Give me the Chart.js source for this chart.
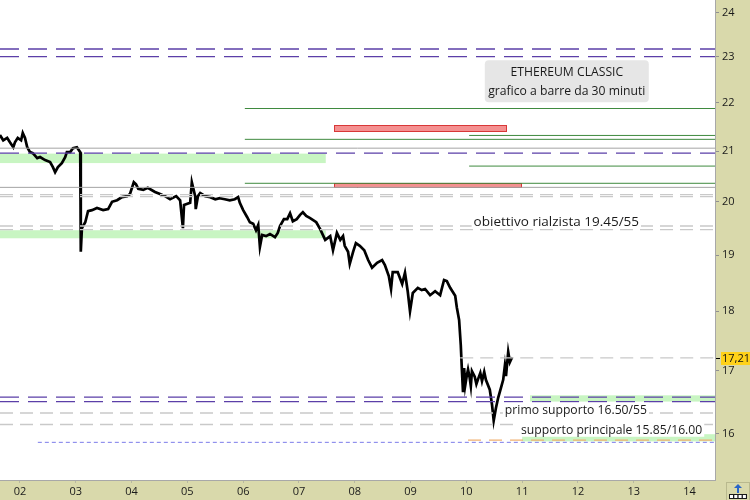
<!DOCTYPE html>
<html>
<head>
<meta charset="utf-8">
<script src="https://cdn.jsdelivr.net/npm/chart.js@4.4.1/dist/chart.umd.min.js"></script>
<style>
  html, body { margin: 0; padding: 0; background: #d9d9ab; }
  #wrap { width: 750px; height: 500px; }
</style>
</head>
<body>
<div id="wrap"><canvas id="chart" width="750" height="500"></canvas></div>
<script>
// ETC, barre da 30 minuti: tempo in giorni del mese, prezzo in USD
const times = [
  1.64, 1.70, 1.77, 1.82, 1.88, 1.91, 1.96, 2.02, 2.05, 2.09, 2.13, 2.18, 2.23, 2.31, 2.36, 2.45,
  2.54, 2.59, 2.63, 2.68, 2.75, 2.81, 2.84, 2.90, 2.95, 3.02, 3.08, 3.09, 3.11, 3.17, 3.22, 3.29,
  3.38, 3.49, 3.58, 3.65, 3.74, 3.83, 3.92, 3.97, 4.04, 4.08, 4.12, 4.21, 4.29, 4.42, 4.51, 4.60,
  4.69, 4.80, 4.87, 4.92, 4.94, 5.05, 5.08, 5.14, 5.15, 5.19, 5.23, 5.32, 5.41, 5.50, 5.58, 5.67,
  5.76, 5.85, 5.91, 5.94, 6.00, 6.07, 6.12, 6.18, 6.23, 6.27, 6.30, 6.34, 6.41, 6.48, 6.57, 6.62,
  6.66, 6.73, 6.79, 6.84, 6.89, 6.96, 7.02, 7.07, 7.13, 7.20, 7.31, 7.38, 7.47, 7.56, 7.61, 7.68,
  7.74, 7.79, 7.82, 7.88, 7.91, 7.97, 8.02, 8.09, 8.17, 8.24, 8.31, 8.40, 8.49, 8.54, 8.61, 8.65,
  8.68, 8.77, 8.85, 8.90, 8.95, 8.99, 9.04, 9.13, 9.20, 9.26, 9.35, 9.44, 9.53, 9.60, 9.65, 9.71,
  9.80, 9.83, 9.87, 9.90, 9.92, 9.94, 9.96, 9.98, 10.01, 10.03, 10.06, 10.08, 10.10, 10.15, 10.18,
  10.21, 10.25, 10.28, 10.32, 10.35, 10.42, 10.46, 10.49, 10.53, 10.57, 10.62, 10.66, 10.69, 10.71,
  10.75, 10.78, 10.82
];
const prices = [
  21.33, 21.22, 21.27, 21.18, 21.08, 21.18, 21.27, 21.22, 21.37, 21.27, 21.08, 20.98, 20.96, 20.86, 20.88, 20.82,
  20.78, 20.68, 20.58, 20.68, 20.76, 20.88, 20.98, 20.98, 21.06, 21.08, 20.98, 19.06, 19.50, 19.61, 19.82, 19.84,
  19.88, 19.84, 19.86, 20.00, 20.03, 20.09, 20.11, 20.15, 20.38, 20.34, 20.25, 20.23, 20.27, 20.19, 20.15, 20.11,
  20.05, 20.11, 20.03, 19.50, 19.94, 19.98, 20.38, 20.11, 19.86, 20.11, 20.17, 20.11, 20.09, 20.05, 20.07, 20.05,
  20.03, 20.05, 20.09, 19.98, 19.84, 19.71, 19.61, 19.58, 19.46, 19.56, 19.15, 19.37, 19.35, 19.39, 19.33, 19.41,
  19.54, 19.67, 19.67, 19.78, 19.63, 19.67, 19.75, 19.80, 19.73, 19.69, 19.61, 19.48, 19.28, 19.35, 19.09, 19.41,
  19.28, 19.35, 19.17, 19.06, 18.84, 19.06, 19.22, 19.17, 19.09, 18.91, 18.77, 18.86, 18.91, 18.82, 18.62, 18.39,
  18.69, 18.69, 18.48, 18.68, 18.34, 18.00, 18.32, 18.41, 18.37, 18.39, 18.28, 18.35, 18.28, 18.55, 18.53, 18.41,
  18.27, 18.06, 17.85, 17.42, 17.01, 16.65, 17.04, 16.76, 16.93, 17.02, 16.88, 16.75, 16.99, 16.90, 16.78,
  16.86, 16.96, 16.83, 16.98, 16.85, 16.69, 16.45, 16.20, 16.40, 16.56, 16.72, 16.85, 17.08, 16.91,
  17.31, 17.14, 17.22
];
const lastPrice = 17.21;

const dayTicks = [2, 3, 4, 5, 6, 7, 8, 9, 10, 11, 12, 13, 14];
const priceTicks = [16, 17, 18, 19, 20, 21, 22, 23, 24];
const dayMin = 1.642, dayMax = 14.456;
const priceMin = 15.30, priceMax = 24.29;

// livelli orizzontali: prezzo, giorno di inizio (finiscono al bordo destro)
const purpleLevels = [[23.17, dayMin], [23.00, dayMin], [20.96, dayMin], [16.57, dayMin], [16.50, dayMin]];
const greenLevels = [[21.88, 6.03], [21.32, 10.05], [21.24, 6.03], [20.70, 10.05], [20.36, 6.03]];
const grayLevels = [[21.06, dayMin], [20.28, dayMin]];
const lightLevels = [[20.14, dayMin], [20.10, dayMin], [19.54, dayMin], [19.47, dayMin], [17.21, 9.89], [16.32, dayMin], [16.14, dayMin]];
const orangeLevels = [[15.90, 10.03]];
const blueLevels = [[15.865, 2.32]];

// zone: giorno da, giorno a, prezzo basso, prezzo alto
const greenZones = [[dayMin, 7.48, 20.76, 20.95], [dayMin, 7.48, 19.31, 19.46], [11.14, dayMax, 16.50, 16.60], [11.00, dayMax, 15.88, 15.99]];
const redZones = [[7.63, 10.71, 21.42, 21.53], [7.63, 10.98, 20.28, 20.36]];

// note: testo, giorno (bordo sinistro), prezzo (centro), corpo
const notes = [
  ['obiettivo rialzista 19.45/55', 10.13, 19.63, 13.5],
  ['primo supporto 16.50/55', 10.69, 16.37, 12.2],
  ['supporto principale 15.85/16.00', 10.98, 16.06, 12.2]
];
const titleLines = ['ETHEREUM CLASSIC', 'grafico a barre da 30 minuti'];
const titleAnchor = [11.80, 22.46];

const FONT = '"Open Sans", "DejaVu Sans", sans-serif';

function level(l, color, width, dash) {
  return {
    data: [{ x: l[1], y: l[0] }, { x: dayMax, y: l[0] }],
    borderColor: color, borderWidth: width, borderDash: dash || [],
    pointRadius: 0, fill: false, tension: 0
  };
}

const datasets = [
  ...lightLevels.map(l => level(l, '#c9c9c9', 1.3, [13, 7])),
  ...grayLevels.map(l => level(l, '#a4a4a4', 1)),
  ...greenLevels.map(l => level(l, '#3f8a3f', 1)),
  ...purpleLevels.map(l => level(l, '#5b3fa8', 1.3, [19, 9])),
  ...orangeLevels.map(l => level(l, '#f0b070', 1.3, [13, 8])),
  ...blueLevels.map(l => level(l, '#7b7bea', 1, [4, 3])),
  {
    data: times.map((t, i) => ({ x: t, y: prices[i] })),
    borderColor: '#000', borderWidth: 2.7, pointRadius: 0, tension: 0, fill: false
  }
];

const backgroundPlugin = {
  id: 'background',
  beforeDraw(chart) {
    const { ctx, chartArea: a, width, height } = chart;
    ctx.save();
    ctx.fillStyle = '#d9d9ab';
    ctx.fillRect(0, 0, width, height);
    ctx.fillStyle = '#ffffff';
    ctx.fillRect(a.left, a.top, a.right - a.left, a.bottom - a.top);
    ctx.restore();
  }
};

const zonesPlugin = {
  id: 'zones',
  beforeDatasetsDraw(chart) {
    const { ctx, scales: { x, y } } = chart;
    ctx.save();
    ctx.fillStyle = '#c8f5c2';
    greenZones.forEach(z => {
      const x0 = x.getPixelForValue(z[0]), x1 = x.getPixelForValue(z[1]);
      const y0 = y.getPixelForValue(z[3]), y1 = y.getPixelForValue(z[2]);
      ctx.fillRect(x0, y0, x1 - x0, y1 - y0);
    });
    redZones.forEach(z => {
      const x0 = Math.round(x.getPixelForValue(z[0])) + 0.5, x1 = Math.round(x.getPixelForValue(z[1])) + 0.5;
      const y0 = Math.round(y.getPixelForValue(z[3])) + 0.5, y1 = Math.round(y.getPixelForValue(z[2])) + 0.5;
      ctx.fillStyle = '#f49090';
      ctx.fillRect(x0, y0, x1 - x0, y1 - y0);
      ctx.strokeStyle = '#d83838';
      ctx.lineWidth = 1;
      ctx.strokeRect(x0, y0, x1 - x0, y1 - y0);
    });
    ctx.restore();
  }
};

const notesPlugin = {
  id: 'notes',
  afterDatasetsDraw(chart) {
    const { ctx, scales: { x, y } } = chart;
    ctx.save();
    ctx.textBaseline = 'middle';
    notes.forEach(([text, day, price, size]) => {
      const px = x.getPixelForValue(day), py = y.getPixelForValue(price);
      ctx.font = size + 'px ' + FONT;
      const w = ctx.measureText(text).width;
      ctx.fillStyle = '#ffffff';
      ctx.fillRect(px - 2, py - size / 2 - 1, w + 4, size + 2);
      ctx.fillStyle = '#1a1a1a';
      ctx.textAlign = 'left';
      ctx.fillText(text, px, py + 1);
    });

    // riquadro del titolo
    const cx = x.getPixelForValue(titleAnchor[0]), cy = y.getPixelForValue(titleAnchor[1]);
    ctx.font = '12.2px ' + FONT;
    const bw = 164, bh = 42;
    ctx.fillStyle = '#e6e6e6';
    ctx.beginPath();
    ctx.roundRect(cx - bw / 2, cy - bh / 2, bw, bh, 4);
    ctx.fill();
    ctx.fillStyle = '#1a1a1a';
    ctx.textAlign = 'center';
    ctx.fillText(titleLines[0], cx, cy - 9);
    ctx.fillText(titleLines[1], cx, cy + 10);
    ctx.restore();
  },
  afterDraw(chart) {
    const { ctx, chartArea: a, scales: { y }, width, height } = chart;
    ctx.save();
    // etichetta ultimo prezzo
    const py = Math.round(y.getPixelForValue(lastPrice));
    ctx.fillStyle = '#ffd21a';
    ctx.fillRect(a.right + 6, py - 6, width - a.right - 6, 13);
    ctx.strokeStyle = '#000';
    ctx.lineWidth = 1;
    ctx.beginPath();
    ctx.moveTo(a.right + 1, py + 0.5);
    ctx.lineTo(a.right + 5, py + 0.5);
    ctx.stroke();
    ctx.fillStyle = '#111';
    ctx.font = '11px ' + FONT;
    ctx.textAlign = 'left';
    ctx.textBaseline = 'middle';
    ctx.fillText(lastPrice.toFixed(2).replace('.', ','), a.right + 7, py + 1);

    // piccolo pulsante in basso a destra
    ctx.strokeStyle = '#b9b98e';
    ctx.strokeRect(a.right + 11.5, a.bottom + 2.5, width - a.right - 12, height - a.bottom - 2);
    ctx.fillStyle = '#2a66c8';
    const bx = a.right + 23;
    ctx.beginPath();
    ctx.moveTo(bx, a.bottom + 4);
    ctx.lineTo(bx - 4, a.bottom + 8);
    ctx.lineTo(bx + 4, a.bottom + 8);
    ctx.closePath();
    ctx.fill();
    ctx.fillRect(bx - 1, a.bottom + 8, 2, 5);
    ctx.fillStyle = '#1a1a1a';
    ctx.fillRect(bx - 9, a.bottom + 14, 18, 5);
    ctx.fillStyle = '#ffffff';
    for (let i = 0; i < 4; i++) ctx.fillRect(bx - 8 + i * 4.3, a.bottom + 15, 3, 3);
    ctx.restore();
  }
};

new Chart(document.getElementById('chart').getContext('2d'), {
  type: 'line',
  data: { datasets },
  options: {
    responsive: false,
    animation: false,
    devicePixelRatio: 1,
    layout: { padding: 0 },
    plugins: { legend: { display: false }, tooltip: { enabled: false } },
    scales: {
      x: {
        type: 'linear',
        min: dayMin,
        max: dayMax,
        afterBuildTicks: s => { s.ticks = dayTicks.map(v => ({ value: v })); },
        afterFit: s => { s.height = 20; s.paddingLeft = 0; s.paddingRight = 0; },
        ticks: {
          callback: v => String(v).padStart(2, '0'),
          font: { family: FONT, size: 11 },
          color: '#1a1a1a',
          padding: 2,
          maxRotation: 0,
          autoSkip: false
        },
        grid: { drawOnChartArea: false, tickLength: 3, color: '#b8b8a0' },
        border: { color: '#a8a8a8' }
      },
      y: {
        type: 'logarithmic',
        position: 'right',
        min: priceMin,
        max: priceMax,
        afterBuildTicks: s => { s.ticks = priceTicks.map(v => ({ value: v })); },
        afterFit: s => { s.width = 35; s.paddingTop = 0; s.paddingBottom = 0; },
        ticks: {
          callback: v => String(v),
          font: { family: FONT, size: 11 },
          color: '#1a1a1a',
          padding: 3
        },
        grid: { drawOnChartArea: false, tickLength: 4, color: '#909090' },
        border: { color: '#a8a8a8' }
      }
    }
  },
  plugins: [backgroundPlugin, zonesPlugin, notesPlugin]
});
</script>
</body>
</html>
